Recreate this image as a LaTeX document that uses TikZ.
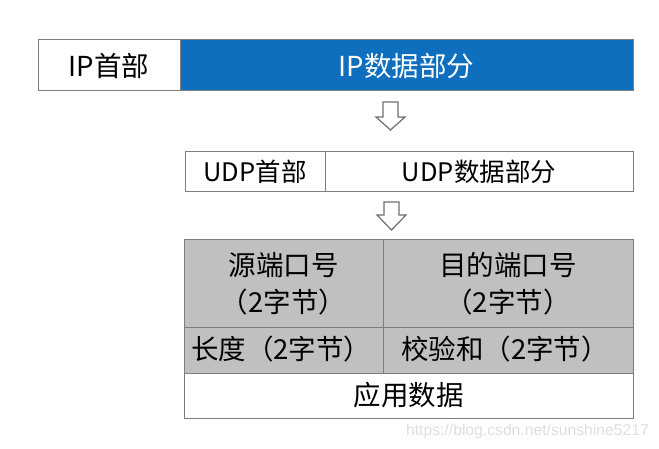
\documentclass[tikz,border=0pt]{standalone}
\usepackage{fontspec}
\setmainfont{Noto Sans CJK SC}
\newfontfamily\wmfont{Liberation Sans}
\definecolor{ipblue}{RGB}{15,111,191}
\definecolor{cellgray}{RGB}{192,192,192}
\definecolor{edgegray}{RGB}{125,125,125}
\definecolor{arrowgray}{RGB}{110,110,110}
\definecolor{wmgray}{RGB}{222,222,222}
\tikzset{
  cellbox/.style={draw=edgegray, line width=1pt},
  celltext/.style={inner sep=0pt, font=\fontsize{27.5}{37}\selectfont, text=black},
  udptext/.style={inner sep=0pt, font=\fontsize{25.5}{30}\selectfont, text=black},
  bigtext/.style={inner sep=0pt, font=\fontsize{27.5}{30}\selectfont},
  downarrow/.style={draw=arrowgray, line width=1.2pt, fill=white, line join=miter},
}
\begin{document}
\begin{tikzpicture}[x=1pt,y=-1pt]
\useasboundingbox (0,0) rectangle (659,449);
% IP row
\path[cellbox, fill=white] (38,40) rectangle (180,91);
\path[cellbox, fill=ipblue] (180,40) rectangle (633,91);
\node[bigtext] (iph) at (109,66) {IP首部};
\node[bigtext, text=white] (ipd) at (406.5,66) {IP数据部分};
% arrow 1
\path[downarrow] (383,102) -- (398,102) -- (398,117) -- (405,117) -- (390.5,130) -- (376,117) -- (383,117) -- cycle;
% UDP row
\path[cellbox, fill=white] (185,152) rectangle (325,192);
\path[cellbox, fill=white] (325,152) rectangle (633,192);
\node[udptext] (udph) at (255,172) {UDP首部};
\node[udptext] (udpd) at (479,172) {UDP数据部分};
% arrow 2
\path[downarrow] (384,202) -- (399,202) -- (399,215) -- (406,215) -- (391.5,230) -- (377,215) -- (384,215) -- cycle;
% table
\path[cellbox, fill=cellgray] (184,240) rectangle (383,327);
\path[cellbox, fill=cellgray] (383,240) rectangle (633,327);
\path[cellbox, fill=cellgray] (184,327) rectangle (383,373);
\path[cellbox, fill=cellgray] (383,327) rectangle (633,373);
\path[cellbox, fill=white] (184,373) rectangle (633,418);
\node[celltext, align=center] (src) at (283.5,284) {源端口号\\（2字节）};
\node[celltext, align=center] (dst) at (508,284) {目的端口号\\（2字节）};
\node[celltext, anchor=west] (len) at (191,349) {长度（2字节）};
\node[celltext, anchor=west] (chk) at (401,349) {校验和（2字节）};
\node[celltext] (app) at (408.5,395) {应用数据};
% watermark
\node[inner sep=0pt, anchor=east, text=wmgray, font=\wmfont\fontsize{15.7}{18}\selectfont] (wm) at (649,431) {https://blog.csdn.net/sunshine5217};
\end{tikzpicture}
\end{document}
